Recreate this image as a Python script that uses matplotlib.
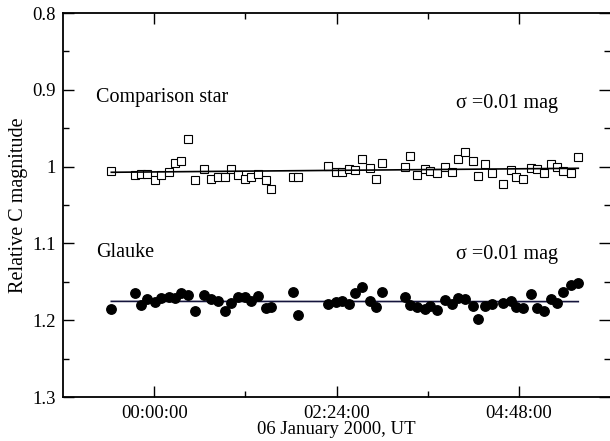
import matplotlib
matplotlib.use("Agg")
import matplotlib.pyplot as plt
from matplotlib.ticker import MultipleLocator, FixedLocator

plt.rcParams['font.family'] = ['Liberation Serif', 'DejaVu Serif']

# time in fractions of a day since 2000-01-06 00:00 UT
t = [-0.0235, -0.0104, -0.0073, -0.0037, 0.0005, 0.0037, 0.0079, 0.0115, 0.0148, 0.0188,
     0.0225, 0.0276, 0.0312, 0.0352, 0.0388, 0.0419, 0.0462, 0.0498, 0.0531, 0.0571,
     0.0612, 0.0639, 0.0760, 0.0790, 0.0951, 0.0995, 0.1031, 0.1068, 0.1104, 0.1141,
     0.1185, 0.1214, 0.1251, 0.1374, 0.1403, 0.1443, 0.1484, 0.1515, 0.1553, 0.1595,
     0.1636, 0.1666, 0.1707, 0.1746, 0.1778, 0.1813, 0.1855, 0.1914, 0.1956, 0.1987,
     0.2024, 0.2064, 0.2101, 0.2137, 0.2174, 0.2207, 0.2243, 0.2284, 0.2326]

comp = [1.0057, 1.0109, 1.0100, 1.0100, 1.0174, 1.0113, 1.0074, 0.9949, 0.9923, 0.9637,
        1.0171, 1.0031, 1.0158, 1.0132, 1.0132, 1.0027, 1.0113, 1.0161, 1.0135, 1.0096,
        1.0171, 1.0288, 1.0135, 1.0139, 0.9992, 1.0070, 1.0066, 1.0035, 1.0048, 0.9897,
        1.0022, 1.0161, 0.9949, 1.0001, 0.9862, 1.0109, 1.0035, 1.0057, 1.0087, 1.0005,
        1.0070, 0.9897, 0.9810, 0.9923, 1.0118, 0.9970, 1.0079, 1.0223, 1.0044, 1.0132,
        1.0165, 1.0022, 1.0035, 1.0087, 0.9970, 1.0009, 1.0053, 1.0079, 0.9871]

glauke = [1.1850, 1.1650, 1.1798, 1.1720, 1.1763, 1.1711, 1.1702, 1.1711, 1.1642, 1.1676,
          1.1880, 1.1668, 1.1720, 1.1750, 1.1876, 1.1780, 1.1702, 1.1694, 1.1750, 1.1689,
          1.1845, 1.1824, 1.1629, 1.1932, 1.1789, 1.1759, 1.1746, 1.1789, 1.1642, 1.1564,
          1.1754, 1.1824, 1.1629, 1.1694, 1.1802, 1.1832, 1.1858, 1.1815, 1.1867, 1.1733,
          1.1789, 1.1711, 1.1720, 1.1815, 1.1980, 1.1815, 1.1789, 1.1772, 1.1750, 1.1832,
          1.1837, 1.1659, 1.1841, 1.1876, 1.1720, 1.1772, 1.1633, 1.1546, 1.1520]

# linear fits
fit_t = [-0.0235, 0.2326]
comp_fit = [1.0074, 1.0022]
glauke_fit = [1.1755, 1.1758]

xtick_pos = [0.0, 0.1, 0.2]
xtick_labels = ['00:00:00', '02:24:00', '04:48:00']

f_size = 13.5
t_size = 14.5


def fmt_mag(v, pos):
    s = '%.1f' % v
    return '1' if s == '1.0' else s


fig = plt.figure(figsize=(6.10, 4.41), dpi=100)
ax = fig.add_axes([63 / 610, 44 / 441, 547 / 610, 384 / 441])

ax.plot(t, comp, linestyle='none', marker='s', markersize=6, markerfacecolor='white',
        markeredgecolor='black', markeredgewidth=0.8)
ax.plot(fit_t, comp_fit, color='black', linewidth=1.2)
ax.plot(fit_t, glauke_fit, color='#14143c', linewidth=1.2)
ax.plot(t, glauke, linestyle='none', marker='o', markersize=6.8, color='black')

ax.set_xlim(-0.05, 0.25)
ax.set_ylim(1.3, 0.8)

ax.xaxis.set_major_locator(FixedLocator(xtick_pos))
ax.set_xticklabels(xtick_labels)
ax.xaxis.set_minor_locator(FixedLocator([0.05, 0.15]))
ax.yaxis.set_major_locator(MultipleLocator(0.1))
ax.yaxis.set_minor_locator(MultipleLocator(0.05))
ax.yaxis.set_major_formatter(plt.FuncFormatter(fmt_mag))

ax.tick_params(which='both', direction='in', top=True, right=True, labelsize=f_size, width=1)
ax.tick_params(which='major', length=8)
ax.tick_params(which='minor', length=4.5)
ax.tick_params(axis='x', pad=6)
ax.tick_params(axis='y', pad=5)

for s in ['left', 'bottom', 'top']:
    ax.spines[s].set_linewidth(1.3)
ax.spines['right'].set_visible(False)

ax.text(-0.0319, 0.910, 'Comparison star', fontsize=t_size, ha='left', va='center')
ax.text(0.1654, 0.918, 'σ =0.01 mag', fontsize=t_size, ha='left', va='center')
ax.text(-0.0319, 1.112, 'Glauke', fontsize=t_size, ha='left', va='center')
ax.text(0.1654, 1.114, 'σ =0.01 mag', fontsize=t_size, ha='left', va='center')

ax.set_xlabel('06 January 2000, UT', fontsize=f_size, labelpad=-1)
ax.set_ylabel('Relative C magnitude', fontsize=14.5, labelpad=3)

fig.savefig('out.png', dpi=100)
